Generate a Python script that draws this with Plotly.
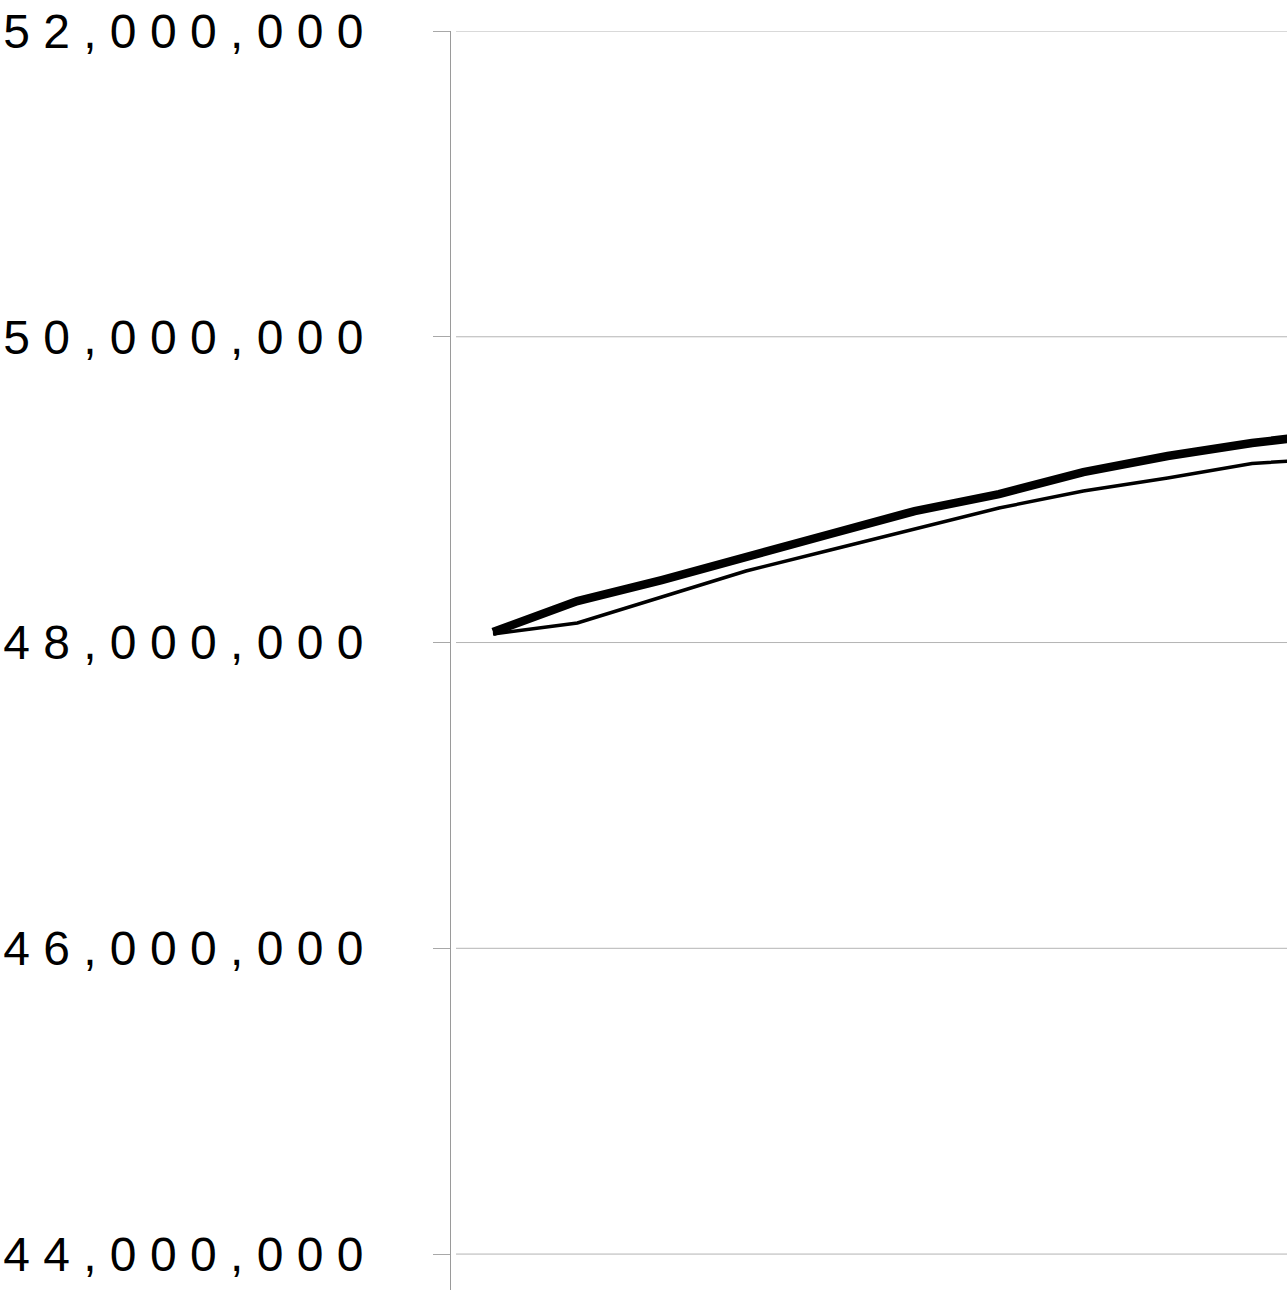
import plotly.graph_objects as go

# Population series (persons), one value per year
years = ["2005", "2006", "2007", "2008", "2009", "2010",
         "2011", "2012", "2013", "2014", "2015"]
series_a = [48069000, 48271000, 48409000, 48553000, 48710000, 48860000,
            48971000, 49115000, 49220000, 49305000, 49370000]
series_b = [48056000, 48128000, 48298000, 48468000, 48605000, 48742000,
            48880000, 48991000, 49076000, 49171000, 49207000]

tick_values = [44000000, 46000000, 48000000, 50000000, 52000000]
tick_labels = ["4 4 , 0 0 0 , 0 0 0", "4 6 , 0 0 0 , 0 0 0", "4 8 , 0 0 0 , 0 0 0",
               "5 0 , 0 0 0 , 0 0 0", "5 2 , 0 0 0 , 0 0 0"]

fig = go.Figure()
fig.add_trace(go.Scatter(x=years, y=series_b, mode="lines",
                         line=dict(color="black", width=3.5),
                         showlegend=False, hoverinfo="skip"))
fig.add_trace(go.Scatter(x=years, y=series_a, mode="lines",
                         line=dict(color="black", width=8.5),
                         showlegend=False, hoverinfo="skip"))

# horizontal gridlines, starting just right of the axis line
for v in tick_values:
    fig.add_shape(type="line", xref="paper", yref="y",
                  x0=0.006, x1=1, y0=v, y1=v,
                  line=dict(color="#b4b4b4", width=1), layer="below")

fig.update_layout(
    width=1287, height=1290,
    margin=dict(l=451, r=0, t=31, b=0, pad=0),
    paper_bgcolor="white", plot_bgcolor="white",
    font=dict(family="Liberation Sans, Arial, sans-serif", color="black"),
    xaxis=dict(type="category", range=[-0.498, 9.415], showgrid=False,
               showticklabels=False, ticks="", showline=False, zeroline=False),
    yaxis=dict(range=[43765000, 52000000], tickvals=tick_values, ticktext=tick_labels,
               showgrid=False, zeroline=False, showline=True,
               linecolor="#9a9a9a", linewidth=1,
               ticks="outside", ticklen=17, tickcolor="#a8a8a8", tickwidth=1,
               tickfont=dict(size=48, color="black"),
               ticklabelstandoff=60),
)

fig.write_html("out.html")
